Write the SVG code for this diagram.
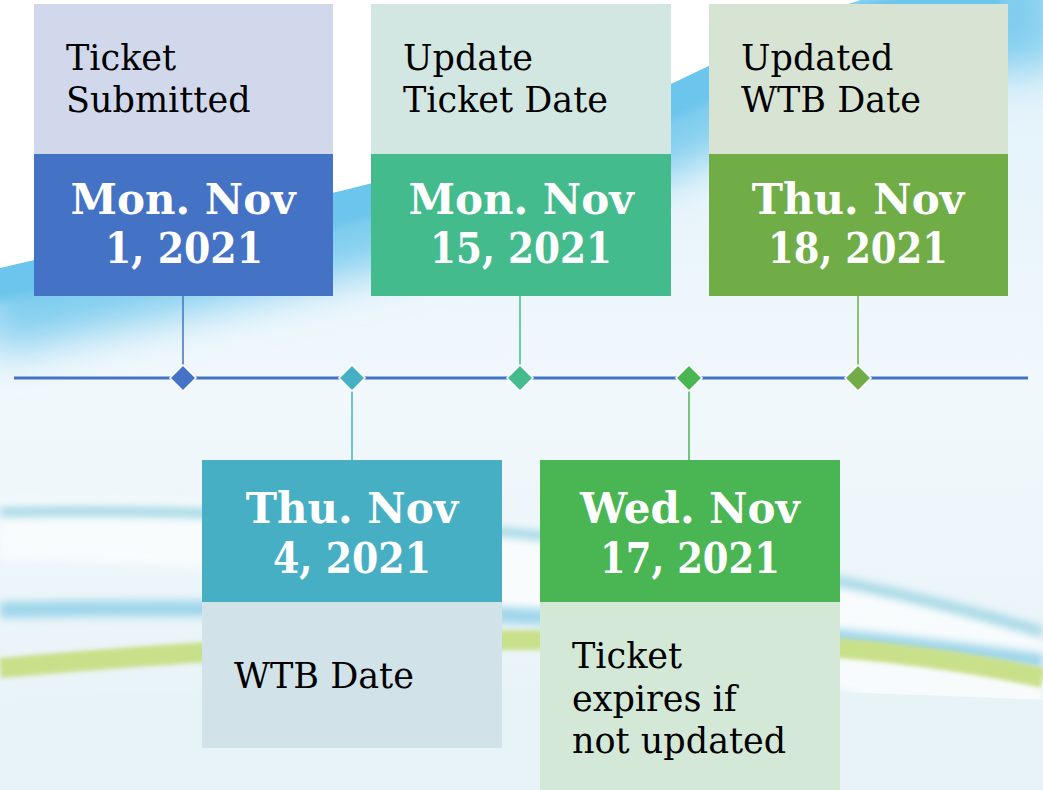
<svg xmlns="http://www.w3.org/2000/svg" width="1043" height="790" viewBox="0 0 1043 790">
<defs>
<linearGradient id="bg" x1="0" y1="0" x2="0" y2="1">
<stop offset="0" stop-color="#dff1fa"/>
<stop offset="0.5" stop-color="#f1f8fc"/>
<stop offset="1" stop-color="#e6f2f7"/>
</linearGradient>
<filter id="blur" x="-10%" y="-50%" width="120%" height="200%"><feGaussianBlur stdDeviation="4"/></filter>
<filter id="blurBig" x="-20%" y="-50%" width="140%" height="200%"><feGaussianBlur stdDeviation="22"/></filter>
<filter id="blur2" x="-10%" y="-50%" width="120%" height="200%"><feGaussianBlur stdDeviation="2"/></filter>
<clipPath id="belowCurve"><path d="M0 268 C200 220 500 170 700 70 C780 30 830 10 860 0 L1043 0 L1043 790 L0 790 Z"/></clipPath>
<style>
.lbl{font-family:"DejaVu Serif","Liberation Serif",serif;font-size:35px;fill:#000}
.date{font-family:"DejaVu Serif","Liberation Serif",serif;font-weight:bold;font-size:42px;fill:#fff;text-anchor:middle}
.axis{stroke:#4472c4;stroke-width:3;fill:none}
.dia{stroke:#fff;stroke-width:1.5}
</style>
</defs>
<g id="background">
<rect width="1043" height="790" fill="url(#bg)"/>
<g clip-path="url(#belowCurve)">
<path d="M-20 300 C200 250 500 200 700 100 C800 50 900 20 1060 10" stroke="#7fcdef" stroke-width="110" fill="none" filter="url(#blurBig)"/>
<path d="M-20 285 C200 235 500 185 700 85 C780 45 860 15 1000 0" stroke="#6cc5ec" stroke-width="40" fill="none" filter="url(#blur)"/>
</g>
<path d="M0 268 C200 220 500 170 700 70 C780 30 830 10 860 0 L0 0 Z" fill="#ffffff"/>
<path d="M0 500 C300 495 700 520 1043 640 L1043 760 C700 620 300 560 0 560 Z" fill="#ffffff" opacity="0.7" filter="url(#blur)"/>
<path d="M0 512 C300 507 700 530 1043 632" stroke="#a3d7e4" stroke-width="10" fill="none" filter="url(#blur)"/>
<path d="M0 610 C300 605 700 612 1043 662" stroke="#9fd6ea" stroke-width="16" fill="none" filter="url(#blur)"/>
<path d="M0 668 C200 650 500 630 800 645 C900 652 980 664 1043 678" stroke="#c9e08a" stroke-width="20" fill="none" filter="url(#blur2)"/>
<path d="M0 698 C300 682 700 684 1043 700 L1043 790 L0 790 Z" fill="#e8f3f8"/>
</g>
<g id="connectors">
<line class="axis" x1="14" y1="378" x2="1028" y2="378"/>
<line x1="183" y1="296" x2="183" y2="378" stroke="#4472c4" stroke-width="1.5"/>
<line x1="352" y1="378" x2="352" y2="460" stroke="#46afc3" stroke-width="1.5"/>
<line x1="520" y1="296" x2="520" y2="378" stroke="#44bb8d" stroke-width="1.5"/>
<line x1="689" y1="378" x2="689" y2="460" stroke="#4ab553" stroke-width="1.5"/>
<line x1="858" y1="296" x2="858" y2="378" stroke="#70ad47" stroke-width="1.5"/>
<path class="dia" d="M183 365 L196 378 L183 391 L170 378 Z" fill="#4472c4"/>
<path class="dia" d="M352 365 L365 378 L352 391 L339 378 Z" fill="#46afc3"/>
<path class="dia" d="M520 365 L533 378 L520 391 L507 378 Z" fill="#44bb8d"/>
<path class="dia" d="M689 365 L702 378 L689 391 L676 378 Z" fill="#4ab553"/>
<path class="dia" d="M858 365 L871 378 L858 391 L845 378 Z" fill="#70ad47"/>
</g>
<g id="node1">
<rect x="34" y="4" width="299" height="150" fill="#d2d8ec"/>
<rect x="34" y="154" width="299" height="142" fill="#4472c4"/>
<text class="lbl" x="66" y="70">Ticket</text>
<text class="lbl" x="66" y="112">Submitted</text>
<text class="date" x="183" y="214">Mon. Nov</text>
<text class="date" x="184" y="263" textLength="158" lengthAdjust="spacingAndGlyphs">1, 2021</text>
</g>
<g id="node2">
<rect x="371" y="4" width="300" height="150" fill="#d3e7e2"/>
<rect x="371" y="154" width="300" height="142" fill="#44bb8d"/>
<text class="lbl" x="403" y="70">Update</text>
<text class="lbl" x="403" y="112">Ticket Date</text>
<text class="date" x="521" y="214">Mon. Nov</text>
<text class="date" x="521" y="263" textLength="182" lengthAdjust="spacingAndGlyphs">15, 2021</text>
</g>
<g id="node3">
<rect x="709" y="4" width="299" height="150" fill="#d8e4d3"/>
<rect x="709" y="154" width="299" height="142" fill="#70ad47"/>
<text class="lbl" x="741" y="70">Updated</text>
<text class="lbl" x="741" y="112">WTB Date</text>
<text class="date" x="858" y="214">Thu. Nov</text>
<text class="date" x="858" y="263" textLength="180" lengthAdjust="spacingAndGlyphs">18, 2021</text>
</g>
<g id="node4">
<rect x="202" y="460" width="300" height="142" fill="#46afc3"/>
<rect x="202" y="602" width="300" height="146" fill="#d1e2e8"/>
<text class="date" x="352" y="523">Thu. Nov</text>
<text class="date" x="352" y="573" textLength="158" lengthAdjust="spacingAndGlyphs">4, 2021</text>
<text class="lbl" x="234" y="688">WTB Date</text>
</g>
<g id="node5">
<rect x="540" y="460" width="300" height="142" fill="#4ab553"/>
<rect x="540" y="602" width="300" height="188" fill="#d4e8d8"/>
<text class="date" x="690" y="523">Wed. Nov</text>
<text class="date" x="690" y="573" textLength="180" lengthAdjust="spacingAndGlyphs">17, 2021</text>
<text class="lbl" x="572" y="668">Ticket</text>
<text class="lbl" x="572" y="711">expires if</text>
<text class="lbl" x="572" y="753">not updated</text>
</g>
</svg>
